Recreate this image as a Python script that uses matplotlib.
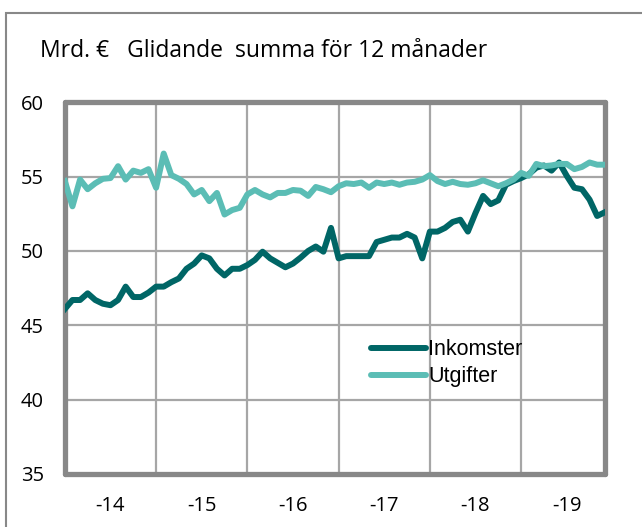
import numpy as np
import matplotlib.pyplot as plt
from matplotlib.patches import Rectangle

# Månadsdata jan 2014 - dec 2019, glidande summa 12 mån (Mrd. €)
inkomster = [46.1, 46.7, 46.7, 47.15, 46.7, 46.45, 46.35, 46.7, 47.6, 46.9, 46.9, 47.2,
             47.6, 47.6, 47.9, 48.15, 48.8, 49.15, 49.7, 49.5, 48.8, 48.35, 48.8, 48.8,
             49.05, 49.4, 49.95, 49.5, 49.2, 48.9, 49.15, 49.55, 50.0, 50.3, 49.95, 51.55,
             49.5, 49.65, 49.65, 49.65, 49.65, 50.6, 50.75, 50.9, 50.9, 51.15, 50.9, 49.5,
             51.3, 51.3, 51.55, 51.95, 52.1, 51.3, 52.55, 53.7, 53.15, 53.4, 54.45, 54.7,
             54.9, 55.15, 55.6, 55.75, 55.4, 55.95, 55.05, 54.25, 54.15, 53.45, 52.35, 52.6]
utgifter = [54.7, 53.0, 54.8, 54.15, 54.55, 54.85, 54.9, 55.7, 54.8, 55.4, 55.25, 55.5,
            54.25, 56.55, 55.1, 54.85, 54.5, 53.8, 54.1, 53.35, 53.9, 52.45, 52.75, 52.9,
            53.8, 54.1, 53.8, 53.6, 53.9, 53.9, 54.1, 54.05, 53.7, 54.3, 54.15, 53.95,
            54.35, 54.55, 54.5, 54.6, 54.25, 54.6, 54.5, 54.6, 54.45, 54.6, 54.65, 54.8,
            55.1, 54.7, 54.5, 54.65, 54.5, 54.45, 54.55, 54.75, 54.55, 54.35, 54.55, 54.8,
            55.25, 55.05, 55.85, 55.7, 55.75, 55.85, 55.85, 55.5, 55.65, 55.95, 55.8, 55.8]
year_labels = ['-14', '-15', '-16', '-17', '-18', '-19']

plt.rcParams['font.family'] = ['Open Sans', 'DejaVu Sans']

fig = plt.figure(figsize=(6.42, 5.27), dpi=100)
ax = fig.add_axes([0.101, 0.1006, 0.841, 0.7054])

x = np.arange(len(inkomster))
ax.plot(x, inkomster, color='#006666', lw=4.3, solid_joinstyle='round', label='Inkomster', zorder=3)
ax.plot(x, utgifter, color='#5bbdb5', lw=4.3, solid_joinstyle='round', label='Utgifter', zorder=3)

ax.set_xlim(0, len(x) - 1)
ax.set_ylim(35, 60)
ax.set_yticks(range(35, 61, 5))
ax.set_xticks(range(12, len(x), 12))
ax.set_xticks([6 + 12 * k for k in range(len(year_labels))], minor=True)
ax.set_xticklabels(year_labels, minor=True)
ax.tick_params(axis='x', which='major', length=0, labelbottom=False)
ax.tick_params(axis='x', which='minor', length=0, pad=16, labelsize=14.5)
ax.tick_params(axis='y', length=0, pad=15, labelsize=14.5)
ax.grid(True, which='major', color='#a6a6a6', lw=1.6)

for s in ax.spines.values():
    s.set_color('#888888')
    s.set_linewidth(3.8)
    s.set_capstyle('round')

leg = ax.legend(loc='upper left', bbox_to_anchor=(0.567, 0.363), frameon=False,
                handlelength=2.55, handletextpad=0.12, labelspacing=0.3,
                borderpad=0, borderaxespad=0,
                prop={'family': ['Liberation Sans Narrow', 'Liberation Sans', 'DejaVu Sans'],
                      'size': 15.5})
for line in leg.get_lines():
    line.set_solid_capstyle('round')

fig.text(0.062, 0.903, 'Mrd. €   Glidande  summa för 12 månader', fontsize=16.5,
         va='center', ha='left')

# yttre ram
fig.patches.append(Rectangle((6 / 642, -0.1), 1.2, (527 - 13) / 527 + 0.1,
                             transform=fig.transFigure, fill=False,
                             edgecolor='#888888', lw=1.5))

fig.savefig('out.png', dpi=100)
